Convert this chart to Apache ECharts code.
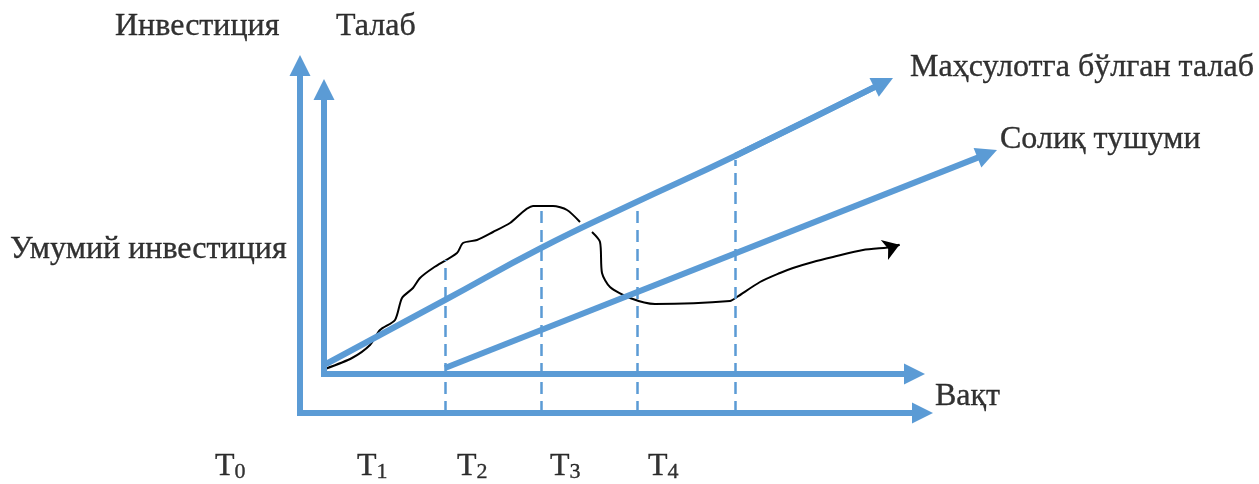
<!DOCTYPE html>
<html><head><meta charset="utf-8">
<script src="https://cdn.jsdelivr.net/npm/echarts@6/dist/echarts.min.js"></script>
<style>html,body{margin:0;padding:0;background:#fff}#c{width:1259px;height:484px}</style>
</head><body><div id="c"></div>
<script>
// ---- data (schematic units: x = time, y = level; origin at the outer axes) ----
const outerAxisV = [[0, -3], [0, 358]];
const outerAxisH = [[-3, 0], [633, 0]];
const innerAxisV = [[24, 37], [24, 334]];
const innerAxisH = [[21, 39], [625, 39]];
const demandCurve = [[26, 49], [145, 113], [241, 165], [330, 208], [435, 257], [593, 335]];
const taxLine = [[145, 45], [697, 263]];
const periodMarks = [145, 241, 337, 435];
const periodTops = [153, 208, 208, 253];
const investmentCurve = [[25, 44], [52, 55], [70, 68], [80, 83], [95, 93], [102, 115], [113, 125], [120, 135],
  [133, 145], [157, 160], [163, 170], [177, 173], [193, 181], [210, 190], [233, 207], [253, 207], [267, 203],
  [280, 191], null, [292, 181], [300, 171], [302, 140], [310, 126], [330, 115], [355, 109], [430, 112],
  [437, 116], [460, 131], [480, 140], [493, 145], [513, 151], [533, 156], [563, 163], [593, 166], [607, 171]];
const textLabels = [
  { name: 'Инвестиция', at: [-185, 386] },
  { name: 'Талаб', at: [36, 386] },
  { name: 'Маҳсулотга бўлган талаб', at: [610, 345] },
  { name: 'Солиқ тушуми', at: [700, 273] },
  { name: 'Умумий инвестиция', at: [-290, 163] },
  { name: 'Вақт', at: [635, 16] }
];
const periodLabels = ['0', '1', '2', '3', '4'];
const periodLabelX = [-85, 57, 157, 250, 348];
const periodLabelY = -54;

// ---- helpers ----
const BLUE = '#5B9BD5';
const ARROW = 21;
function shorten(from, tip, d) {
  const dx = tip[0] - from[0], dy = tip[1] - from[1];
  const L = Math.hypot(dx, dy);
  return [tip[0] - dx / L * d, tip[1] - dy / L * d];
}
function arrowSeg(a, b, size) {
  return { coords: [a, shorten(a, b, size / 2)] };
}

const arrowSegments = [
  arrowSeg(outerAxisV[0], outerAxisV[1], ARROW),
  arrowSeg(outerAxisH[0], outerAxisH[1], ARROW),
  arrowSeg(innerAxisV[0], innerAxisV[1], ARROW),
  arrowSeg(innerAxisH[0], innerAxisH[1], ARROW),
  arrowSeg(taxLine[0], taxLine[1], ARROW),
  arrowSeg(demandCurve[demandCurve.length - 2], demandCurve[demandCurve.length - 1], ARROW)
];
const demandBody = demandCurve.slice(0, -1).concat([
  shorten(demandCurve[demandCurve.length - 2], demandCurve[demandCurve.length - 1], ARROW / 2)]);

const INV_ARROW = 16;
const invTip = investmentCurve[investmentCurve.length - 1];
const invPrev = investmentCurve[investmentCurve.length - 2];
const invEnd = shorten(invPrev, invTip, INV_ARROW / 2);
const invBody = investmentCurve.slice(0, -1).concat([invEnd]);

const dashed = periodMarks.map((x, i) => ({ coords: [[x, 0], [x, periodTops[i]]] }));

const FONT = '"Liberation Serif", "Times New Roman", serif';
const FS = 32;
const INK = { color: '#000000', textBorderColor: '#000000', textBorderWidth: 0.35 };

const chart = echarts.init(document.getElementById('c'), null, { renderer: 'canvas' });
chart.setOption({
  animation: false,
  backgroundColor: '#fff',
  grid: { left: 0, right: 0, top: 0, bottom: 0 },
  xAxis: { type: 'value', min: -300, max: 959, show: false },
  yAxis: { type: 'value', min: -71, max: 413, show: false },
  series: [
    {
      type: 'line', data: invBody, smooth: 0.25, showSymbol: false, symbol: 'none',
      connectNulls: false, lineStyle: { color: '#000', width: 2 }, z: 1
    },
    {
      type: 'lines', coordinateSystem: 'cartesian2d', z: 1,
      symbol: ['none', 'arrow'], symbolSize: INV_ARROW,
      lineStyle: { color: '#000', width: 2, opacity: 1 },
      data: [{ coords: [invPrev, invEnd] }]
    },
    {
      type: 'lines', coordinateSystem: 'cartesian2d', z: 2,
      lineStyle: { color: BLUE, width: 2.5, type: [12, 7], opacity: 1 },
      data: dashed
    },
    {
      type: 'line', data: demandBody, smooth: 0.5, showSymbol: false, symbol: 'none',
      lineStyle: { color: BLUE, width: 6, cap: 'butt' }, z: 3
    },
    {
      type: 'lines', coordinateSystem: 'cartesian2d', z: 3,
      symbol: ['none', 'triangle'], symbolSize: ARROW,
      lineStyle: { color: BLUE, width: 6, opacity: 1 },
      data: arrowSegments
    },
    {
      type: 'scatter', symbolSize: 0, z: 5,
      data: textLabels.map(t => ({ name: t.name, value: t.at })),
      label: Object.assign({
        show: true, position: 'inside', align: 'left', verticalAlign: 'middle',
        formatter: p => p.name, fontFamily: FONT, fontSize: FS
      }, INK)
    },
    {
      type: 'scatter', symbolSize: 0, z: 5,
      data: periodLabels.map((s, i) => ({ name: s, value: [periodLabelX[i], periodLabelY] })),
      label: {
        show: true, position: 'inside', align: 'left', verticalAlign: 'middle',
        formatter: p => '{t|T}{s|' + p.name + '}',
        rich: {
          t: Object.assign({ fontFamily: FONT, fontSize: FS, verticalAlign: 'top', lineHeight: 32 }, INK),
          s: Object.assign({ fontFamily: FONT, fontSize: 22, verticalAlign: 'bottom', lineHeight: 22, padding: [17, 0, 0, 0] }, INK)
        }
      }
    }
  ]
});
</script>
</body></html>
